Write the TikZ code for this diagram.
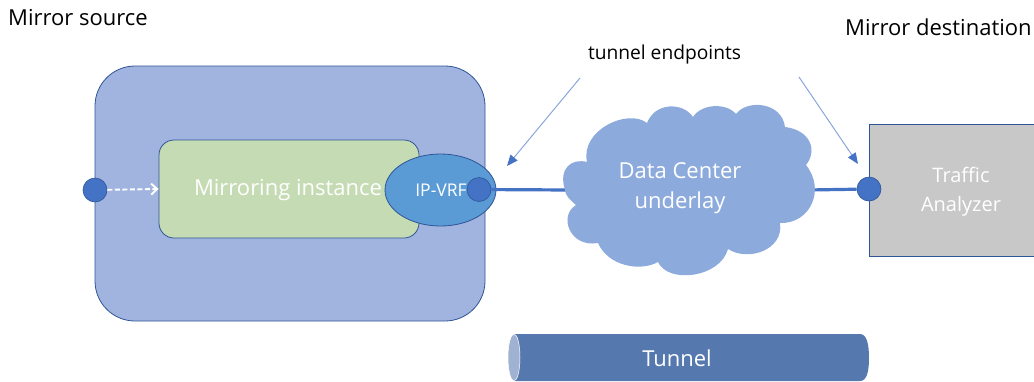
\documentclass[tikz,border=0pt]{standalone}
\usepackage{fontspec}
\setmainfont{Open Sans}
\usetikzlibrary{arrows.meta,shapes.geometric}
\definecolor{srcfill}{HTML}{A1B4E0}
\definecolor{edge}{HTML}{2F5597}
\definecolor{mirfill}{HTML}{C5DBB3}
\definecolor{vrffill}{HTML}{5B9BD5}
\definecolor{dotfill}{HTML}{4472C4}
\definecolor{cloudfill}{HTML}{8CAADC}
\definecolor{grayfill}{HTML}{C8C8C8}
\definecolor{tunfill}{HTML}{5578AE}
\definecolor{tuncap}{HTML}{9FB2D2}
\definecolor{thinline}{HTML}{8AA6DC}
\tikzset{
  x=1pt,y=-1pt,
  dotnode/.style={circle,draw=edge,line width=0.6pt,fill=dotfill,minimum size=24pt,inner sep=0pt},
  whitelabel/.style={text=white,font=\fontsize{22}{30}\selectfont,align=center,inner sep=0pt},
  blacklabel/.style={text=black,font=\fontsize{22}{27}\selectfont,inner sep=0pt},
  pointer/.style={thinline,line width=1pt,-{Triangle[length=11pt,width=9pt,color=dotfill]}},
  tunnelline/.style={dotfill,line width=3.2pt},
}
\begin{document}
\begin{tikzpicture}
\useasboundingbox (0,0) rectangle (1034,381);
% mirror source
\node[draw=edge,line width=0.8pt,fill=srcfill,rounded corners=40pt,minimum width=390pt,minimum height=255pt,inner sep=0pt] (source) at (290,193.5) {};
\node[draw=edge,line width=0.8pt,fill=mirfill,rounded corners=15pt,minimum width=260pt,minimum height=98pt,inner sep=0pt] (mirror) at (289,189) {};
\node[whitelabel] (mirrortext) at (288,190) {Mirroring instance};
\node[ellipse,draw=edge,line width=0.8pt,fill=vrffill,minimum width=111pt,minimum height=72pt,inner sep=0pt] (vrf) at (440.5,190) {};
\node[text=white,font=\fontsize{17.5}{21}\selectfont,inner sep=0pt] (vrftext) at (441,190) {IP-VRF};
% cloud anchors
\coordinate (cloudL) at (570,190);
\coordinate (cloudR) at (808,190);
% destination
\node[draw=edge,line width=0.8pt,fill=grayfill,minimum width=170pt,minimum height=132pt,inner sep=0pt] (dest) at (954,190) {};
\node[whitelabel,font=\fontsize{20}{29}\selectfont] (desttext) at (961,191.5) {Traffic\\Analyzer};
% dots
\node[dotnode] (dotin) at (95,190) {};
\node[dotnode] (dotvrf) at (479,189.5) {};
\node[dotnode] (dotdest) at (869,189) {};
% connectors
\draw[tunnelline] (dotvrf) -- (cloudL);
\draw[tunnelline] (cloudR) -- (dotdest);
\draw[white,line width=1.9pt,dash pattern=on 5pt off 2.5pt,-{Straight Barb[length=6pt,width=11pt]}] (dotin) -- (mirror.west);
% cloud
\fill[cloudfill] (565,190)
 .. controls (558,168) and (572,158) .. (587,162)
 .. controls (580,130) and (628,108) .. (647,123)
 .. controls (655,102) and (683,102) .. (693,117)
 .. controls (702,103) and (727,103) .. (736,114)
 .. controls (747,99) and (782,102) .. (785,127)
 .. controls (810,130) and (818,150) .. (806,165)
 .. controls (826,190) and (810,224) .. (780,223)
 .. controls (784,250) and (748,262) .. (728,249)
 .. controls (720,278) and (668,284) .. (658,262)
 .. controls (640,272) and (608,266) .. (598,243)
 .. controls (570,248) and (558,216) .. (576,205)
 .. controls (570,200) and (565,195) .. (565,190) -- cycle;
\node[whitelabel,font=\fontsize{22}{30}\selectfont] (cloudtext) at (680,188) {Data Center\\underlay};
% texts
\node[blacklabel,anchor=west] (srclabel) at (8,18) {Mirror source};
\node[blacklabel,anchor=west] (dstlabel) at (845,27) {Mirror destination};
\node[text=black,font=\fontsize{19.2}{23}\selectfont,inner sep=0pt] (endpoints) at (664.5,55) {tunnel endpoints};
% pointers
\coordinate (p1s) at (580,78); \coordinate (p1e) at (507,166);
\coordinate (p2s) at (799,77); \coordinate (p2e) at (858,164);
\draw[pointer] (p1s) -- (p1e);
\draw[pointer] (p2s) -- (p2e);
% tunnel
\fill[tunfill] (514,334) -- (860,334) .. controls (867,334) and (869,345) .. (869,358) .. controls (869,371) and (867,381) .. (860,381) -- (514,381) -- cycle;
\node[ellipse,fill=tuncap,draw=white,line width=0.5pt,minimum width=12pt,minimum height=47pt,inner sep=0pt] (tuncapnode) at (514,357.5) {};
\node[whitelabel,font=\fontsize{22}{27}\selectfont] (tunneltext) at (677,358) {Tunnel};
\end{tikzpicture}
\end{document}
